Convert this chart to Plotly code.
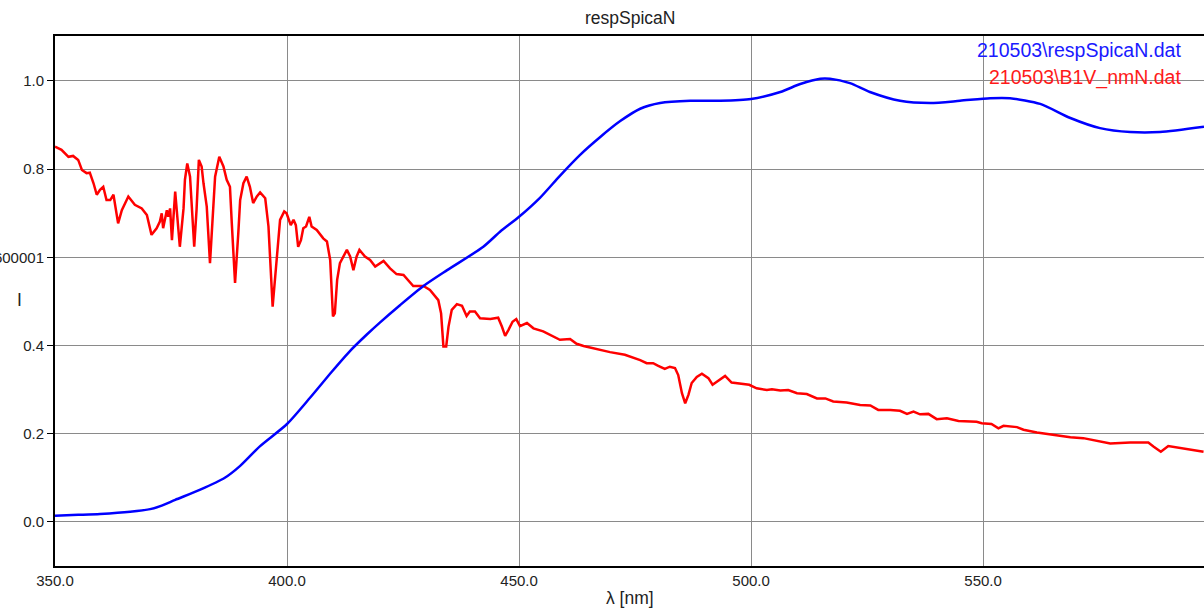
import plotly.graph_objects as go

# ---- data ----
resp_wl = [350.0, 355.0, 359.7, 366.2, 370.5, 373.0, 375.9, 381.3, 386.6, 389.9, 394.2, 400.0,
           405.0, 409.6, 413.6, 417.2, 420.0, 424.4, 429.4, 434.5, 442.3, 445.9, 450.0, 454.5,
           458.8, 463.1, 467.5, 471.8, 476.1, 480.4, 486.9, 493.3, 500.0, 506.3, 510.6, 514.9,
           517.0, 521.3, 525.6, 532.1, 538.6, 545.0, 551.5, 555.8, 562.3, 568.8, 575.2, 581.7,
           588.1, 597.6]
resp_val = [0.014, 0.016, 0.018, 0.023, 0.029, 0.037, 0.050, 0.073, 0.100, 0.127, 0.172, 0.222,
            0.282, 0.340, 0.388, 0.425, 0.452, 0.492, 0.535, 0.571, 0.624, 0.658, 0.692, 0.735,
            0.785, 0.832, 0.873, 0.909, 0.937, 0.950, 0.955, 0.955, 0.959, 0.975, 0.993, 1.005,
            1.005, 0.995, 0.975, 0.955, 0.950, 0.955, 0.961, 0.961, 0.948, 0.916, 0.893, 0.884,
            0.884, 0.896]

star_wl = [350.0, 351.4, 352.9, 353.9, 355.0, 355.8, 356.8, 357.5, 358.3, 359.0, 359.7, 360.4,
           361.1, 361.9, 362.6, 363.6, 364.4, 365.1, 365.8, 367.2, 368.7, 369.8, 370.8, 371.9,
           372.6, 373.0, 373.3, 374.1, 374.4, 374.8, 375.2, 375.9, 376.2, 376.9, 377.7, 378.0,
           378.5, 379.1, 380.0, 380.5, 381.0, 381.6, 382.0, 382.7, 383.4, 384.1, 384.5, 385.4,
           386.3, 387.0, 387.7, 388.1, 388.8, 389.5, 389.9, 390.6, 391.3, 392.0, 392.7, 393.5,
           394.2, 395.3, 396.0, 396.9, 397.8, 398.5, 399.4, 399.9, 400.8, 401.4, 401.9, 402.4,
           403.0, 403.5, 404.1, 404.8, 405.3, 406.4, 407.8, 408.6, 409.3, 409.9, 410.3, 410.8,
           411.4, 412.1, 412.9, 413.6, 414.3, 415.0, 415.6, 416.8, 417.9, 419.0, 420.8, 422.2,
           423.6, 425.1, 427.2, 429.4, 430.8, 432.6, 433.2, 433.7, 434.3, 434.8, 435.5, 436.6,
           437.7, 438.7, 439.4, 440.5, 441.6, 443.8, 445.5, 446.3, 447.0, 447.7, 448.6, 449.4,
           450.2, 451.7, 453.1, 455.2, 457.4, 458.8, 461.0, 462.4, 463.9, 466.0, 467.1, 469.6,
           472.8, 476.1, 477.5, 478.9, 480.0, 481.4, 482.5, 483.6, 484.3, 485.1, 485.8, 486.5,
           487.2, 488.3, 489.4, 490.8, 491.7, 493.0, 494.4, 495.8, 497.6, 499.6, 501.2, 503.4,
           504.5, 506.3, 508.0, 509.9, 512.0, 514.2, 516.0, 517.7, 520.6, 523.5, 525.7, 527.4,
           530.0, 532.1, 533.6, 535.0, 536.4, 538.2, 540.0, 542.2, 544.7, 548.6, 549.7, 551.8,
           553.3, 554.4, 557.3, 558.7, 561.6, 565.2, 568.8, 571.6, 574.5, 577.4, 581.7, 585.6,
           586.7, 588.3, 589.9, 592.5, 594.6, 597.5]
star_val = [0.851, 0.844, 0.828, 0.830, 0.821, 0.798, 0.791, 0.792, 0.768, 0.742, 0.753, 0.760,
            0.730, 0.730, 0.742, 0.677, 0.707, 0.723, 0.738, 0.719, 0.711, 0.696, 0.651, 0.666,
            0.681, 0.700, 0.666, 0.707, 0.692, 0.711, 0.639, 0.749, 0.707, 0.624, 0.711, 0.776,
            0.813, 0.783, 0.624, 0.707, 0.821, 0.806, 0.768, 0.715, 0.587, 0.715, 0.783, 0.828,
            0.806, 0.776, 0.760, 0.677, 0.542, 0.655, 0.730, 0.768, 0.783, 0.760, 0.723, 0.738,
            0.747, 0.734, 0.670, 0.488, 0.609, 0.685, 0.704, 0.700, 0.673, 0.685, 0.673, 0.624,
            0.639, 0.666, 0.670, 0.692, 0.670, 0.662, 0.643, 0.636, 0.594, 0.466, 0.473, 0.549,
            0.587, 0.602, 0.617, 0.602, 0.571, 0.602, 0.617, 0.602, 0.594, 0.579, 0.592, 0.575,
            0.562, 0.560, 0.535, 0.535, 0.526, 0.503, 0.473, 0.398, 0.398, 0.443, 0.481, 0.494,
            0.490, 0.467, 0.477, 0.477, 0.462, 0.460, 0.463, 0.443, 0.422, 0.435, 0.454, 0.460,
            0.444, 0.451, 0.439, 0.432, 0.420, 0.413, 0.415, 0.404, 0.399, 0.394, 0.390, 0.385,
            0.379, 0.367, 0.360, 0.360, 0.354, 0.347, 0.352, 0.349, 0.333, 0.292, 0.269, 0.288,
            0.315, 0.329, 0.336, 0.326, 0.311, 0.320, 0.331, 0.316, 0.313, 0.311, 0.303, 0.299,
            0.301, 0.298, 0.299, 0.292, 0.290, 0.280, 0.280, 0.273, 0.271, 0.265, 0.264, 0.254,
            0.254, 0.252, 0.245, 0.250, 0.244, 0.245, 0.233, 0.235, 0.229, 0.227, 0.224, 0.222,
            0.212, 0.218, 0.215, 0.209, 0.203, 0.197, 0.192, 0.190, 0.184, 0.178, 0.180, 0.180,
            0.171, 0.159, 0.172, 0.168, 0.165, 0.159]

x_ticks = [350, 400, 450, 500, 550]
x_tick_text = ["350.0", "400.0", "450.0", "500.0", "550.0"]
y_ticks = [0.0, 0.2, 0.4, 0.6, 0.8, 1.0]
y_tick_text = ["0.0", "0.2", "0.4", "0.600001", "0.8", "1.0"]

chart_title = "respSpicaN"
x_title = "λ [nm]"
y_title = "I"
resp_name = "210503\\respSpicaN.dat"
star_name = "210503\\B1V_nmN.dat"

# ---- figure ----
base_font = "Liberation Sans, Arial"
tick_font = dict(family=base_font, size=15, color="#222222")

fig = go.Figure()
fig.add_trace(go.Scatter(x=star_wl, y=star_val, mode="lines", name=star_name,
                         line=dict(color="#FF0000", width=2.5)))
fig.add_trace(go.Scatter(x=resp_wl, y=resp_val, mode="lines", name=resp_name,
                         line=dict(color="#0000FF", width=2.5, shape="spline", smoothing=0.7)))

fig.update_layout(
    width=1204, height=610,
    margin=dict(l=55, r=0, t=36, b=44, autoexpand=False),
    paper_bgcolor="white", plot_bgcolor="white",
    showlegend=False,
    xaxis=dict(range=[350, 597.6], tickvals=x_ticks, ticktext=x_tick_text,
               showgrid=True, gridcolor="#8a8a8a", gridwidth=1, zeroline=False,
               showline=True, linecolor="black", linewidth=2, mirror=True,
               ticks="", tickfont=tick_font, automargin=False),
    yaxis=dict(range=[-0.1, 1.102], tickvals=y_ticks, ticktext=y_tick_text,
               showgrid=True, gridcolor="#8a8a8a", gridwidth=1, zeroline=False,
               showline=True, linecolor="black", linewidth=2,
               ticks="outside", ticklen=6, tickcolor="black", tickfont=tick_font,
               automargin=False),
    annotations=[
        dict(text=chart_title, xref="paper", yref="paper", x=0.5, y=1.034,
             xanchor="center", yanchor="middle", showarrow=False,
             font=dict(family=base_font, size=17.5, color="#222222")),
        dict(text=x_title, xref="paper", yref="paper", x=0.5, y=-0.0604,
             xanchor="center", yanchor="middle", showarrow=False,
             font=dict(family=base_font, size=17.5, color="#222222")),
        dict(text=y_title, xref="paper", yref="paper", x=-0.0305, y=0.502,
             xanchor="center", yanchor="middle", showarrow=False,
             font=dict(family=base_font, size=17.5, color="#222222")),
        dict(text=resp_name, xref="paper", yref="paper", x=0.9817, y=0.9736,
             xanchor="right", yanchor="middle", showarrow=False,
             font=dict(family=base_font, size=19.5, color="#1a1aff")),
        dict(text=star_name, xref="paper", yref="paper", x=0.9817, y=0.9226,
             xanchor="right", yanchor="middle", showarrow=False,
             font=dict(family=base_font, size=19.5, color="#ff1a1a")),
    ],
)

fig.write_html("out.html", config={"displayModeBar": False},
               post_script="document.body.style.margin='0';document.body.style.overflow='hidden';")
